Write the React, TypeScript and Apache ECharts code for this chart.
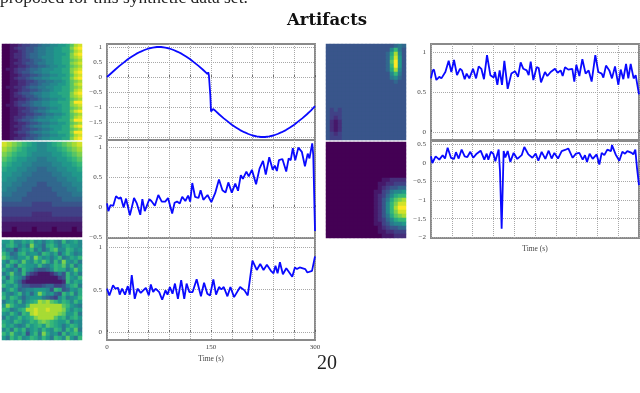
import React, { useEffect, useRef } from "react";
import * as echarts from "echarts";

const VIRIDIS = ["#440154","#482878","#3e4989","#31688e","#26828e","#1f9e89","#35b779","#6ece58","#b5de2b","#fde725"];
const SERIF = "Liberation Serif";

// heat maps: each character is a hex level 0..f
const heatA = [
"00112334456677889bde","00123344566778899cef","00112344566778899bde","00122345566778889cef",
"00122345567778899cde","00112334556778899bcd","00122344566778899cde","00112234455677889bcd",
"01123345567778899cde","00123445667788899cef","00112334456677889bde","00123345667788899cef",
"00112233455667789bcd","00112234456677889bde","01122345566778899bcd","00112334456678899bde",
"00123445667788999cef","00122344567788899cde","00112234456677889bcd","00123345667788999cff",
"01123445667788899cde","00112234455677899bcd","00112334566788899cef","00112233445667789bcd",
"00122344566778899bde","00123445677788999cff","00112234456677889bcd","00122345667788899cef",
"00112334456678899bcd","00123345667788999cff","00112234456677889bde","00122344567788899cef",
];
const heatB = [
"edcba987789abcde","dcba98877889abcd","cba9987777889abc","ba988776677889ab",
"a98877666677889a","9887766556677889","8877665555667788","8776655555566778",
"7766555445556677","7665554444555667","6655544444455566","5555444444445555",
"4444443333444444","3333333333333333","3333332222333333","2222222222222222",
"1111111111111111","1101110111011101","0000000000000000",
];
const heatC = [
"88a7798a7868976a7897","79a8686c8759a8689887","8674798a6857ab77a978","a8569a7886a97958a867",
"b97688a7c97868a6798a","86a97b87a8b96a7c8796","7a85a9887a768a9b7a68","97685a8754457a9968b8",
"68b76a5321112464a796","95a8752111111134a87a","79a7521111111112a798","a87964433345533479a6",
"68a8567788874a945879","9768a6858c97854a8a69","a7a9757888654379678a","6897a689adcdba8a97a8",
"8ca877addddddddba876","a9679addeddedddc9798","87a86a9dedddddcb88a6","6978a89acddddb9a79a8",
"987a978a9bcba988a687","a89767a89a8ba9868a97","796a8a6897a87a96a8b6","a8b87948a6c9785a79a8",
"86a8a78a97a86a97b86a",
];
const heatD = [
"44444444444444444565","44444444444444447a64","44444444444444459d74","4444444444444445ae84",
"4444444444444445bf84","4444444444444445af84","44444444444444459d74","44444444444444447a64",
"44444444444444446754","44444444444444444544","44444444444444444444","44444444444444444444",
"44444444444444444444","44444444444444444444","44444444444444444444","44444444444444444444",
"43434444444444444444","43334444444444444444","43234444444444444444","42124444444444444444",
"42124444444444444444","42124444444444444444","43234444444444444444","43334444444444444444",
];
const heatE = [
"00000000000000000000","00000000000000000000","00000000000000000000","00000000000000000000",
"00000000000000000000","00000000000000000000","00000000000000000000","00000000000000000000",
"00000000000000000000","00000000000000112222","00000000000001122333","00000000000001234455",
"00000000000011346778","00000000000012357 9aa".replace(" ",""),"00000000000012469bcd","0000000000001247acee",
"0000000000001247adff","0000000000001247acee","00000000000012469bcd","000000000000123579aa",
"00000000000011346778","00000000000001234455","00000000000001122333","00000000000000111222",
];

// line series: seconds and values
const timeL1 = [0,6,12,18,24,30,36,42,48,54,60,66,72,78,84,90,96,102,108,114,120,126,132,138,144,145,146,147,149,150,151,153,155,156,162,168,174,180,186,192,198,204,210,216,222,228,234,240,246,252,258,264,270,276,282,288,294,300];
const valL1 = [0,.125,.25,.37,.48,.59,.68,.77,.84,.9,.95,.98,1,1,.98,.95,.9,.84,.77,.68,.59,.48,.37,.25,.12,.1,.16,.05,-.6,-1.15,-1.12,-1.07,-1.1,-1.12,-1.25,-1.37,-1.48,-1.59,-1.68,-1.77,-1.84,-1.9,-1.95,-1.98,-2,-2,-1.98,-1.95,-1.9,-1.84,-1.77,-1.68,-1.59,-1.48,-1.37,-1.25,-1.12,-.97];

const timeL2 = [0,2,5,9,13,17,20,24,27.5,33,39,43,48,51,54.5,61,64,69,74,79,84,88,94,97.5,101,105,108.5,113,117,120,123,127,132,135,139,145,150.5,156,161.5,166.5,171,175,180,185,189,193,196,201,204.5,209,215,220,225,229,234,239,242,245,248,253,258.5,262,265,268,271.5,276,281,285.5,289.5,292,296,297.5,300];
const valL2 = [.06,-.07,.03,.02,.18,.14,.16,-.01,.14,-.14,.15,.06,-.13,.13,-.07,.13,.1,.02,.2,.09,.09,.15,-.11,.07,.09,.06,.17,.1,.19,.09,.4,.17,.15,.28,.12,.2,.08,.23,.46,.28,.24,.41,.24,.39,.27,.53,.47,.59,.51,.62,.38,.64,.77,.54,.83,.62,.69,.6,.78,.8,.59,.81,.78,.98,.78,.99,.92,.68,.89,.81,1.06,.87,-.4];

const timeL3 = [0,3.4,8.7,12,16,18.3,21.7,26,30,32.8,35.7,40,44,48.7,56,60.3,63.2,66.6,70,75.3,79.6,84.4,87.3,90.7,94.5,98,102.3,107,111.4,114.8,118.7,123.5,129.3,135.5,140,144.7,148.6,153.4,157.3,161.6,165,168.4,173.7,178,183.3,192,198.3,203,209.8,216,221,225.8,230.6,236.4,240.2,243,246,249.4,253.7,258.6,267.2,271,274,277.9,286,289,295.7,300];
const valL3 = [.51,.43,.55,.51,.52,.44,.51,.44,.54,.44,.67,.39,.51,.46,.52,.43,.56,.47,.51,.47,.38,.49,.44,.53,.45,.57,.39,.61,.39,.57,.47,.47,.62,.42,.58,.45,.43,.62,.44,.53,.5,.53,.42,.53,.41,.53,.49,.43,.84,.73,.8,.73,.79,.72,.69,.78,.69,.82,.68,.75,.65,.76,.74,.76,.74,.7,.72,.89];

const timeR1 = [0,2.4,4.3,7.7,12,15,20.7,25.5,29.3,33.2,37.5,41.8,44.7,48.6,51.4,55.3,60.6,65,68.8,72.6,76.4,80.8,85.6,90.4,92.3,95.7,99,102.4,105.8,110.6,115.9,121.2,125.5,129.3,133.2,138,140.9,143.8,147.6,152.4,155.3,158.7,164.4,167.8,172.6,178.8,182.7,187,189.9,193.3,198,203.8,206.7,209.6,214,218.3,223,227.4,231.7,237,241.3,246.2,248.6,252.4,257.2,261,265.4,270.2,273.6,277.4,281.3,284.6,288,292.3,295.2,300];
const valR1 = [.67,.77,.78,.65,.69,.67,.75,.89,.75,.9,.71,.79,.77,.66,.73,.67,.79,.67,.82,.79,.66,.96,.71,.68,.75,.59,.77,.59,.89,.54,.73,.76,.69,.87,.79,.77,.71,.88,.65,.81,.8,.62,.75,.7,.75,.79,.74,.77,.7,.81,.78,.79,.63,.84,.7,.91,.73,.77,.63,.96,.75,.73,.68,.83,.77,.67,.82,.59,.78,.66,.85,.67,.85,.67,.71,.47];

const timeR2 = [0,1.9,6.7,12,16.8,20.2,24,28.8,33.2,36,39.9,44.2,48.6,52.4,56.7,61,65.9,71.6,76.9,80.3,82.7,86.5,89.9,92.8,97.6,99.5,101.9,104.8,107.2,110.6,114.4,119.2,124.5,130.8,134.6,140.4,146.2,151,154.8,159.6,164.9,169.7,174,177.9,183.2,188.5,193.3,198,204.3,209.1,213.9,218.8,222.1,225,228.8,233.2,238.9,242.8,246.2,250,254.3,259.6,261,266.3,271.6,276,279.8,283.2,289.4,291.8,294.7,297.1,300];
const valR2 = [.17,-.01,.17,.08,.2,.11,.4,.13,.1,.28,.11,.35,.17,.15,.29,.13,.24,.32,.08,.24,.08,.29,.24,.04,.35,-.23,-1.77,.31,.14,.31,.02,.26,.1,.2,.42,.22,.13,.24,.05,.29,.1,.32,.11,.26,.11,.31,.34,.38,.13,.24,.26,.08,.2,.02,.24,.1,.22,-.05,.26,.2,.35,.31,.47,.22,.05,.29,.24,.31,.26,.22,.35,-.14,-.6];

const ticksL1 = [1,.5,0,-.5,-1,-1.5,-2];
const ticksL2 = [1,.5,0,-.5];
const ticksL3 = [1,.5,0];
const ticksR1 = [1,.5,0];
const ticksR2 = [.5,0,-.5,-1,-1.5,-2];
const xLabels = [0,150,300];

const PAGE_TEXT = "proposed for this synthetic data set.";
const TITLE = "Artifacts";
const PAGE_NUMBER = "20";
const X_NAME = "Time (s)";

const heatPanels = [
  { rows: heatA, left: 2, top: 44, w: 80, h: 96 },
  { rows: heatB, left: 2, top: 142, w: 80, h: 95 },
  { rows: heatC, left: 2, top: 240, w: 80, h: 100 },
  { rows: heatD, left: 326, top: 44, w: 80, h: 96 },
  { rows: heatE, left: 326, top: 142, w: 80, h: 96 },
];
const linePanels = [
  { t: timeL1, v: valL1, ticks: ticksL1, left: 107, top: 44, h: 96, min: -2.1, max: 1.1, labels: false, name: false },
  { t: timeL2, v: valL2, ticks: ticksL2, left: 107, top: 140, h: 98, min: -0.517, max: 1.117, labels: false, name: false },
  { t: timeL3, v: valL3, ticks: ticksL3, left: 107, top: 238, h: 102, min: -0.094, max: 1.106, labels: true, name: true },
  { t: timeR1, v: valR1, ticks: ticksR1, left: 431, top: 44, h: 96, min: -0.1, max: 1.1, labels: false, name: false },
  { t: timeR2, v: valR2, ticks: ticksR2, left: 431, top: 141, h: 97, min: -2.02, max: 0.58, labels: false, name: true },
];

function buildOption() {
  const grid: any[] = [], xAxis: any[] = [], yAxis: any[] = [], series: any[] = [];
  heatPanels.forEach((p, i) => {
    const nCols = p.rows[0].length;
    grid.push({ left: p.left, top: p.top, width: p.w, height: p.h });
    xAxis.push({ type: "category", gridIndex: i, show: false, data: Array.from({ length: nCols }, (_, k) => k) });
    yAxis.push({ type: "category", gridIndex: i, show: false, inverse: true, data: p.rows.map((_, k) => k) });
    const data: number[][] = [];
    p.rows.forEach((row, r) => {
      row.split("").forEach((ch, c) => data.push([c, r, parseInt(ch, 16)]));
    });
    series.push({ type: "heatmap", xAxisIndex: i, yAxisIndex: i, data, itemStyle: { borderWidth: 0 }, progressive: 0 });
  });
  linePanels.forEach((p, j) => {
    const i = j + heatPanels.length;
    grid.push({ left: p.left, top: p.top, width: 208, height: p.h, show: true, borderColor: "#8a8a8a", borderWidth: 2, backgroundColor: "transparent" });
    xAxis.push({
      type: "value", gridIndex: i, min: 0, max: 300, interval: 30,
      name: p.name ? X_NAME : "", nameLocation: "middle", nameGap: p.labels ? 14 : 6,
      nameTextStyle: { fontFamily: SERIF, fontSize: 7.5, color: "#444" },
      axisLine: { show: false },
      axisTick: { show: true, inside: true, length: 2, lineStyle: { color: "#555", width: 0.8 } },
      axisLabel: {
        show: p.labels, margin: 3, fontFamily: SERIF, fontSize: 7, color: "#444",
        formatter: (v: number) => (xLabels.includes(v) ? String(v) : ""),
      },
      splitLine: { show: true, lineStyle: { color: "#a8a8a8", type: [1, 1], width: 1 } },
    });
    yAxis.push({
      type: "value", gridIndex: i, min: p.min, max: p.max,
      axisLine: { show: false },
      axisTick: { show: false, customValues: p.ticks },
      axisLabel: {
        show: true, margin: 5, fontFamily: SERIF, fontSize: 7, color: "#444",
        customValues: p.ticks,
        formatter: (v: number) => String(v).replace("-", "\u2212"),
      },
      splitLine: { show: true, lineStyle: { color: "#a8a8a8", type: [1, 1], width: 1 } },
    });
    series.push({
      type: "line", xAxisIndex: i, yAxisIndex: i, showSymbol: false, symbol: "none",
      data: p.t.map((t, k) => [t, p.v[k]]),
      lineStyle: { color: "#0a0aff", width: 1.8 },
      z: 5,
    });
  });
  return {
    animation: false,
    backgroundColor: "#ffffff",
    grid, xAxis, yAxis, series,
    visualMap: {
      show: false, min: 0, max: 15, dimension: 2,
      seriesIndex: heatPanels.map((_, k) => k),
      inRange: { color: VIRIDIS },
    },
    graphic: [
      { type: "text", x: 0, y: -12, style: { text: PAGE_TEXT, font: `17.5px "${SERIF}"`, fill: "#222" } },
      { type: "text", x: 327, y: 19, style: { text: TITLE, font: `bold 16.5px "DejaVu Serif"`, fill: "#111", align: "center", verticalAlign: "middle" } },
      { type: "text", x: 327, y: 362, style: { text: PAGE_NUMBER, font: `20px "${SERIF}"`, fill: "#222", align: "center", verticalAlign: "middle" } },
    ],
  };
}

export default function App() {
  const ref = useRef<HTMLDivElement>(null);
  useEffect(() => {
    const chart = echarts.init(ref.current!, undefined, { renderer: "svg" });
    chart.setOption(buildOption() as any);
    return () => chart.dispose();
  }, []);
  return <div ref={ref} style={{ position: "absolute", left: 0, top: 0, width: 640, height: 393, filter: "blur(0.5px)" }} />;
}
